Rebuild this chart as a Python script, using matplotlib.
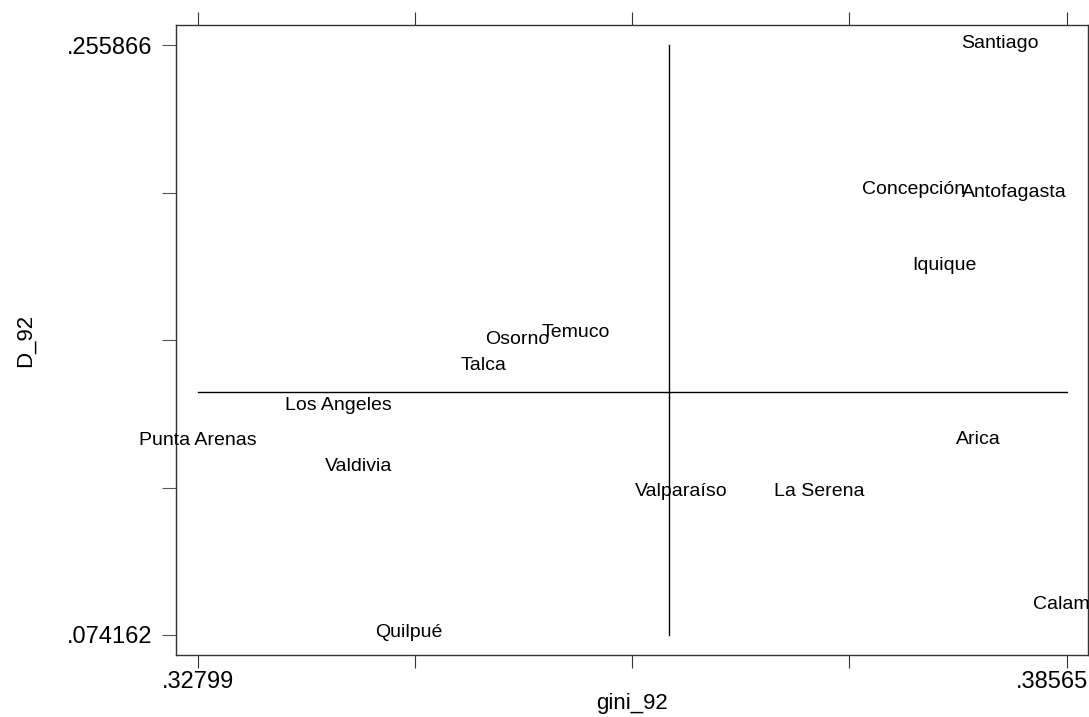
import matplotlib
matplotlib.use("Agg")
import matplotlib.pyplot as plt
import matplotlib.transforms as mtransforms

plt.rcParams['font.family'] = ['Liberation Sans', 'DejaVu Sans']

# city labels, gini_92 and D_92
cities = ['Santiago', 'Concepción', 'Antofagasta', 'Iquique', 'Osorno', 'Temuco',
          'Talca', 'Los Angeles', 'Punta Arenas', 'Valdivia', 'Valparaíso',
          'La Serena', 'Arica', 'Calama', 'Quilpué']
gini_92 = [0.38122, 0.37552, 0.38215, 0.37751, 0.34918, 0.35309,
           0.34699, 0.33730, 0.32799, 0.33869, 0.36006,
           0.36921, 0.37976, 0.38565, 0.34201]
D_92 = [0.255866, 0.21082, 0.20989, 0.18740, 0.16460, 0.16676,
        0.15659, 0.14426, 0.13348, 0.12547, 0.11777,
        0.11777, 0.13379, 0.08294, 0.074162]

# reference lines
x_ref = 0.35926
y_ref = 0.14888

xmin, xmax = min(gini_92), max(gini_92)
ymin, ymax = min(D_92), max(D_92)

fig = plt.figure(figsize=(10.89, 7.17), dpi=100)
ax = fig.add_axes([0.1613, 0.0865, 0.8377, 0.8787])

ax.set_xlim(0.32653, 0.38706)
ax.set_ylim(0.067999, 0.262121)

# labels used as markers
off = mtransforms.offset_copy(ax.transData, fig=fig, x=0, y=2, units='dots')
for name, x, y in zip(cities, gini_92, D_92):
    ax.text(x, y, name, transform=off, ha='center', va='center',
            fontsize=14, color='black', clip_on=False)

ax.plot([x_ref, x_ref], [ymin, ymax], color='black', lw=1)
ax.plot([xmin, xmax], [y_ref, y_ref], color='black', lw=1)

# ticks: five each, only the ends labelled
xt = [xmin + i * (xmax - xmin) / 4 for i in range(5)]
yt = [ymin + i * (ymax - ymin) / 4 for i in range(5)]
ax.set_xticks(xt)
ax.set_xticklabels(['.32799', '', '', '', '.38565'])
ax.set_yticks(yt)
ax.set_yticklabels(['.074162', '', '', '', '.255866'])

ax.tick_params(axis='x', direction='out', length=9.5, width=0.8, top=True,
               labelsize=17, pad=2, color='#333333')
ax.tick_params(axis='y', direction='out', length=10, width=0.8, right=False,
               labelsize=17, pad=7, color='#555555')

# last x label pushed left so it stays inside the picture
last = ax.get_xticklabels()[-1]
last.set_horizontalalignment('right')
last.set_transform(last.get_transform() +
                   mtransforms.ScaledTranslation(21 / 100, 0, fig.dpi_scale_trans))

for s in ax.spines.values():
    s.set_linewidth(1)
    s.set_color('#333333')

ax.set_xlabel('gini_92', fontsize=16, labelpad=0)
ax.set_ylabel('D_92', fontsize=16, labelpad=22)

fig.savefig('out.png', dpi=100)
